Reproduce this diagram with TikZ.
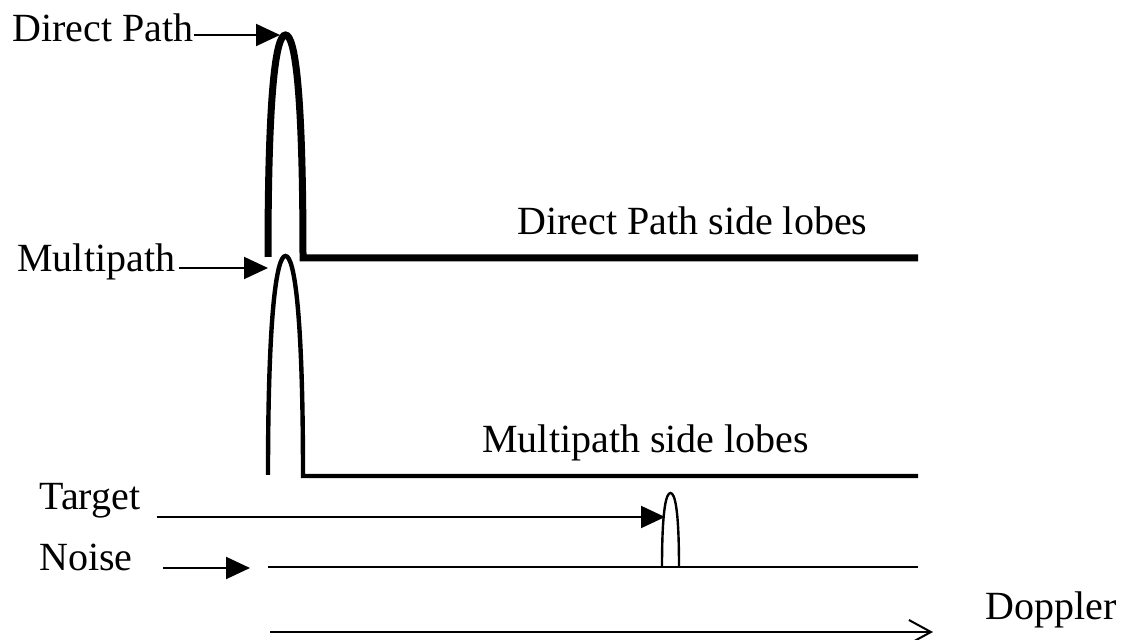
\documentclass[tikz,border=0pt]{standalone}
\usepackage{fontspec}
\setmainfont{Liberation Serif}
\usetikzlibrary{arrows.meta}
\begin{document}
\begin{tikzpicture}[
    x=0.5pt, y=-0.5pt,
    every node/.style={font=\fontsize{20}{24}\selectfont, inner sep=0pt, anchor=base west},
    pointer/.style={line width=1pt, -{Triangle[length=12pt,width=11pt]}},
    lobe/.style={line width=#1, line join=miter}]
  \useasboundingbox (0,0) rectangle (1125,640);
  \node (dp) at (12,42) {Direct Path};
  \node (mp) at (17,272) {Multipath};
  \node (tg) at (39,510) {Target};
  \node (ns) at (39,571) {Noise};
  \node (dps) at (517,235) {Direct Path side lobes};
  \node (mps) at (482,453) {Multipath side lobes};
  \node (dop) at (985,620) {Doppler};
  \coordinate (dptip) at (280,35);
  \coordinate (mptip) at (268,268);
  \coordinate (tgtip) at (665,517);
  \coordinate (nstip) at (250,568);
  \coordinate (ax0) at (270,632);
  \coordinate (ax1) at (933,632);
  \draw[lobe=3.5pt] (268,257) .. controls (268,90) and (276,35) .. (285.5,35)
    .. controls (295,35) and (303,90) .. (303,258) -- (918,258);
  \draw[lobe=2.2pt] (268,475) .. controls (268,320) and (276,256) .. (285.5,256)
    .. controls (295,256) and (303,320) .. (303,476) -- (918,476);
  \draw[lobe=1.2pt] (268,567) -- (918,567);
  \draw[lobe=1.2pt] (662,567) .. controls (662,510) and (666,493) .. (670.5,493)
    .. controls (675,493) and (679,510) .. (679,567);
  \draw[pointer] (dp.east |- dptip) -- (dptip);
  \draw[pointer] ([xshift=1.5pt]mp.east |- mptip) -- (mptip);
  \draw[pointer] ([xshift=8pt]tg.east |- tgtip) -- (tgtip);
  \draw[pointer] ([xshift=15pt]ns.east |- nstip) -- (nstip);
  \draw[line width=1pt, -{Straight Barb[length=11pt,width=12pt]}] (ax0) -- (ax1);
\end{tikzpicture}
\end{document}
